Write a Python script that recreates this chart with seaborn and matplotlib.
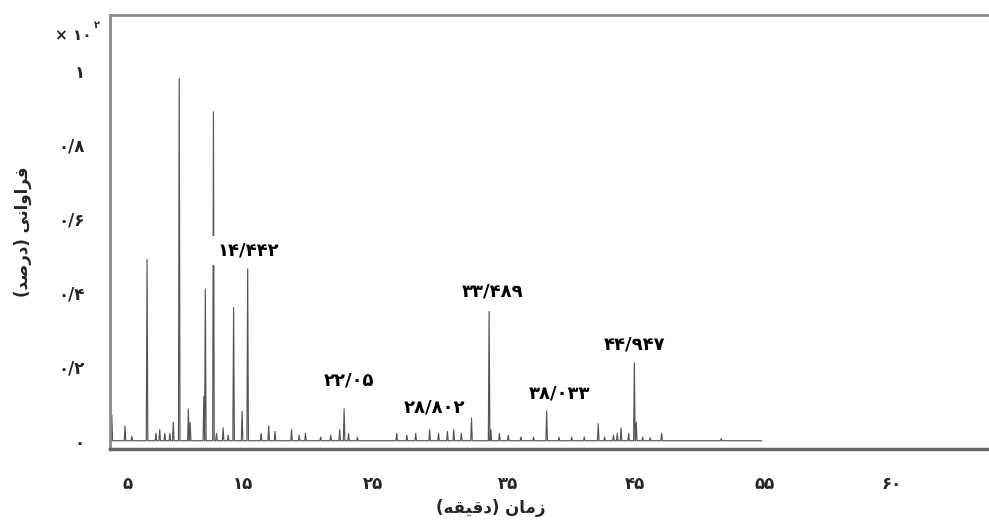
import matplotlib
matplotlib.use('Agg')
import matplotlib.pyplot as plt
import matplotlib.transforms as mtransforms
import seaborn as sns
import pandas as pd

# peaks of the chromatogram (retention time in min, relative abundance x10^2)
peak_time = [3.72, 4.76, 5.3, 6.50, 7.2, 7.5, 7.9, 8.3, 8.57, 9.04, 9.76, 9.9,
             10.98, 11.10, 11.74, 11.98, 12.5, 12.9, 13.33, 14.0, 14.44,
             15.5, 16.1, 16.6, 17.9, 18.5, 19.0, 20.2, 21.0, 21.7, 22.05, 22.4,
             23.1, 26.2, 27.0, 27.7, 28.8, 29.5, 30.2, 30.7, 31.3, 32.1, 33.49,
             33.63, 34.3, 35.0, 36.0, 37.0, 38.03, 39.0, 40.0, 41.0, 42.1, 42.6,
             43.3, 43.6, 43.9, 44.5, 44.95, 45.1, 45.6, 46.2, 47.1, 51.8]
peak_height = [0.07, 0.04, 0.012, 0.49, 0.02, 0.03, 0.02, 0.02, 0.05, 0.98, 0.086, 0.05,
               0.12, 0.41, 0.89, 0.02, 0.035, 0.015, 0.36, 0.08, 0.465,
               0.02, 0.04, 0.025, 0.03, 0.015, 0.02, 0.01, 0.015, 0.03, 0.086, 0.02,
               0.01, 0.02, 0.015, 0.02, 0.03, 0.02, 0.025, 0.03, 0.02, 0.062, 0.35,
               0.03, 0.02, 0.015, 0.01, 0.01, 0.08, 0.01, 0.01, 0.01, 0.046, 0.01,
               0.015, 0.02, 0.035, 0.02, 0.21, 0.05, 0.01, 0.008, 0.02, 0.006]
run_start, run_end = 3.56, 55.0

# labelled peaks
label_text = ['۱۴/۴۴۲', '۲۲/۰۵', '۲۸/۸۰۲', '۳۳/۴۸۹', '۳۸/۰۳۳', '۴۴/۹۴۷']
label_time = [14.442, 22.05, 28.802, 33.489, 38.033, 44.947]

xtick_pos = [5, 15, 25, 35, 45, 55, 65]
xtick_lab = ['۵', '۱۵', '۲۵', '۳۵', '۴۵', '۵۵', '۶۰']
ytick_pos = [0, 0.2, 0.4, 0.6, 0.8, 1.0]
ytick_lab = ['۰', '۰/۲', '۰/۴', '۰/۶', '۰/۸', '۱']

# label placement (style)
label_dx = [0.08, 0.41, 0.4, 0.25, 1.03, 0.0]
label_y = [0.514, 0.162, 0.089, 0.403, 0.127, 0.259]
xtick_shift = [0, -12, -9, 0, 0, 3, 3]  # px, as printed in the original

# build the spike trace
w = 0.06
pts = [(run_start, 0.0), (run_end, 0.0)]
for t, h in zip(peak_time, peak_height):
    pts += [(t - w, 0.0), (t, h), (t + w, 0.0)]
pts.sort(key=lambda p: p[0])
trace = pd.DataFrame(pts, columns=['time', 'signal'])

sns.set_style('white')
plt.rcParams['font.family'] = ['DejaVu Sans']
plt.rcParams['font.weight'] = 'bold'

fig = plt.figure(figsize=(9.89, 5.25), dpi=100)
ax = fig.add_axes([0.111, 0.145, 0.895, 0.826])

sns.lineplot(data=trace, x='time', y='signal', sort=False, estimator=None,
             color='#555555', linewidth=0.85, ax=ax)

ax.set_xlim(3.56, 73.4)
ax.set_ylim(-0.022, 1.151)

ax.set_xticks(xtick_pos)
ax.set_xticklabels(xtick_lab, fontsize=12, fontweight='bold')
ax.set_yticks(ytick_pos)
ax.set_yticklabels(ytick_lab, fontsize=12, fontweight='bold')
ax.tick_params(axis='x', length=0, pad=19)
ax.tick_params(axis='y', length=0, pad=18)
for lab, dx in zip(ax.get_xticklabels(), xtick_shift):
    lab.set_transform(lab.get_transform() +
                      mtransforms.ScaledTranslation(dx / 100, 0, fig.dpi_scale_trans))

for s in ['top', 'left']:
    ax.spines[s].set_color('#8a8a8a')
    ax.spines[s].set_linewidth(2)
ax.spines['bottom'].set_color('#666666')
ax.spines['bottom'].set_linewidth(2.5)
ax.spines['right'].set_visible(False)

for txt, t, dx, y in zip(label_text, label_time, label_dx, label_y):
    ax.text(t + dx, y, txt, ha='center', va='center', fontsize=13,
            fontweight='bold', color='black',
            bbox=dict(facecolor='white', edgecolor='none', pad=4))

# axis titles (pre-shaped Persian, visual order)
ylab = '(\uFEAA\uFEBB\uFEAD\uFEA9) \uFEF0\uFEE7\uFE8D\uFEED\uFE8D\uFEAE\uFED3'
xlab = '(\uFEEA\uFED8\uFEF4\uFED7\uFEA9) \uFEE5\uFE8E\uFEE3\uFEAF'
ax.set_xlabel(xlab, fontsize=12, fontweight='bold')
ax.set_ylabel(ylab, fontsize=12, fontweight='bold')
ax.yaxis.set_label_coords(-0.088, 0.5)
ax.xaxis.set_label_coords(0.43, -0.115)

fig.text(0.056, 0.932, '× ۱۰', fontsize=11, fontweight='bold', ha='left', va='center')
fig.text(0.095, 0.952, '۲', fontsize=7, fontweight='bold', ha='left', va='center')

fig.savefig('out.png', dpi=100, facecolor='white')
